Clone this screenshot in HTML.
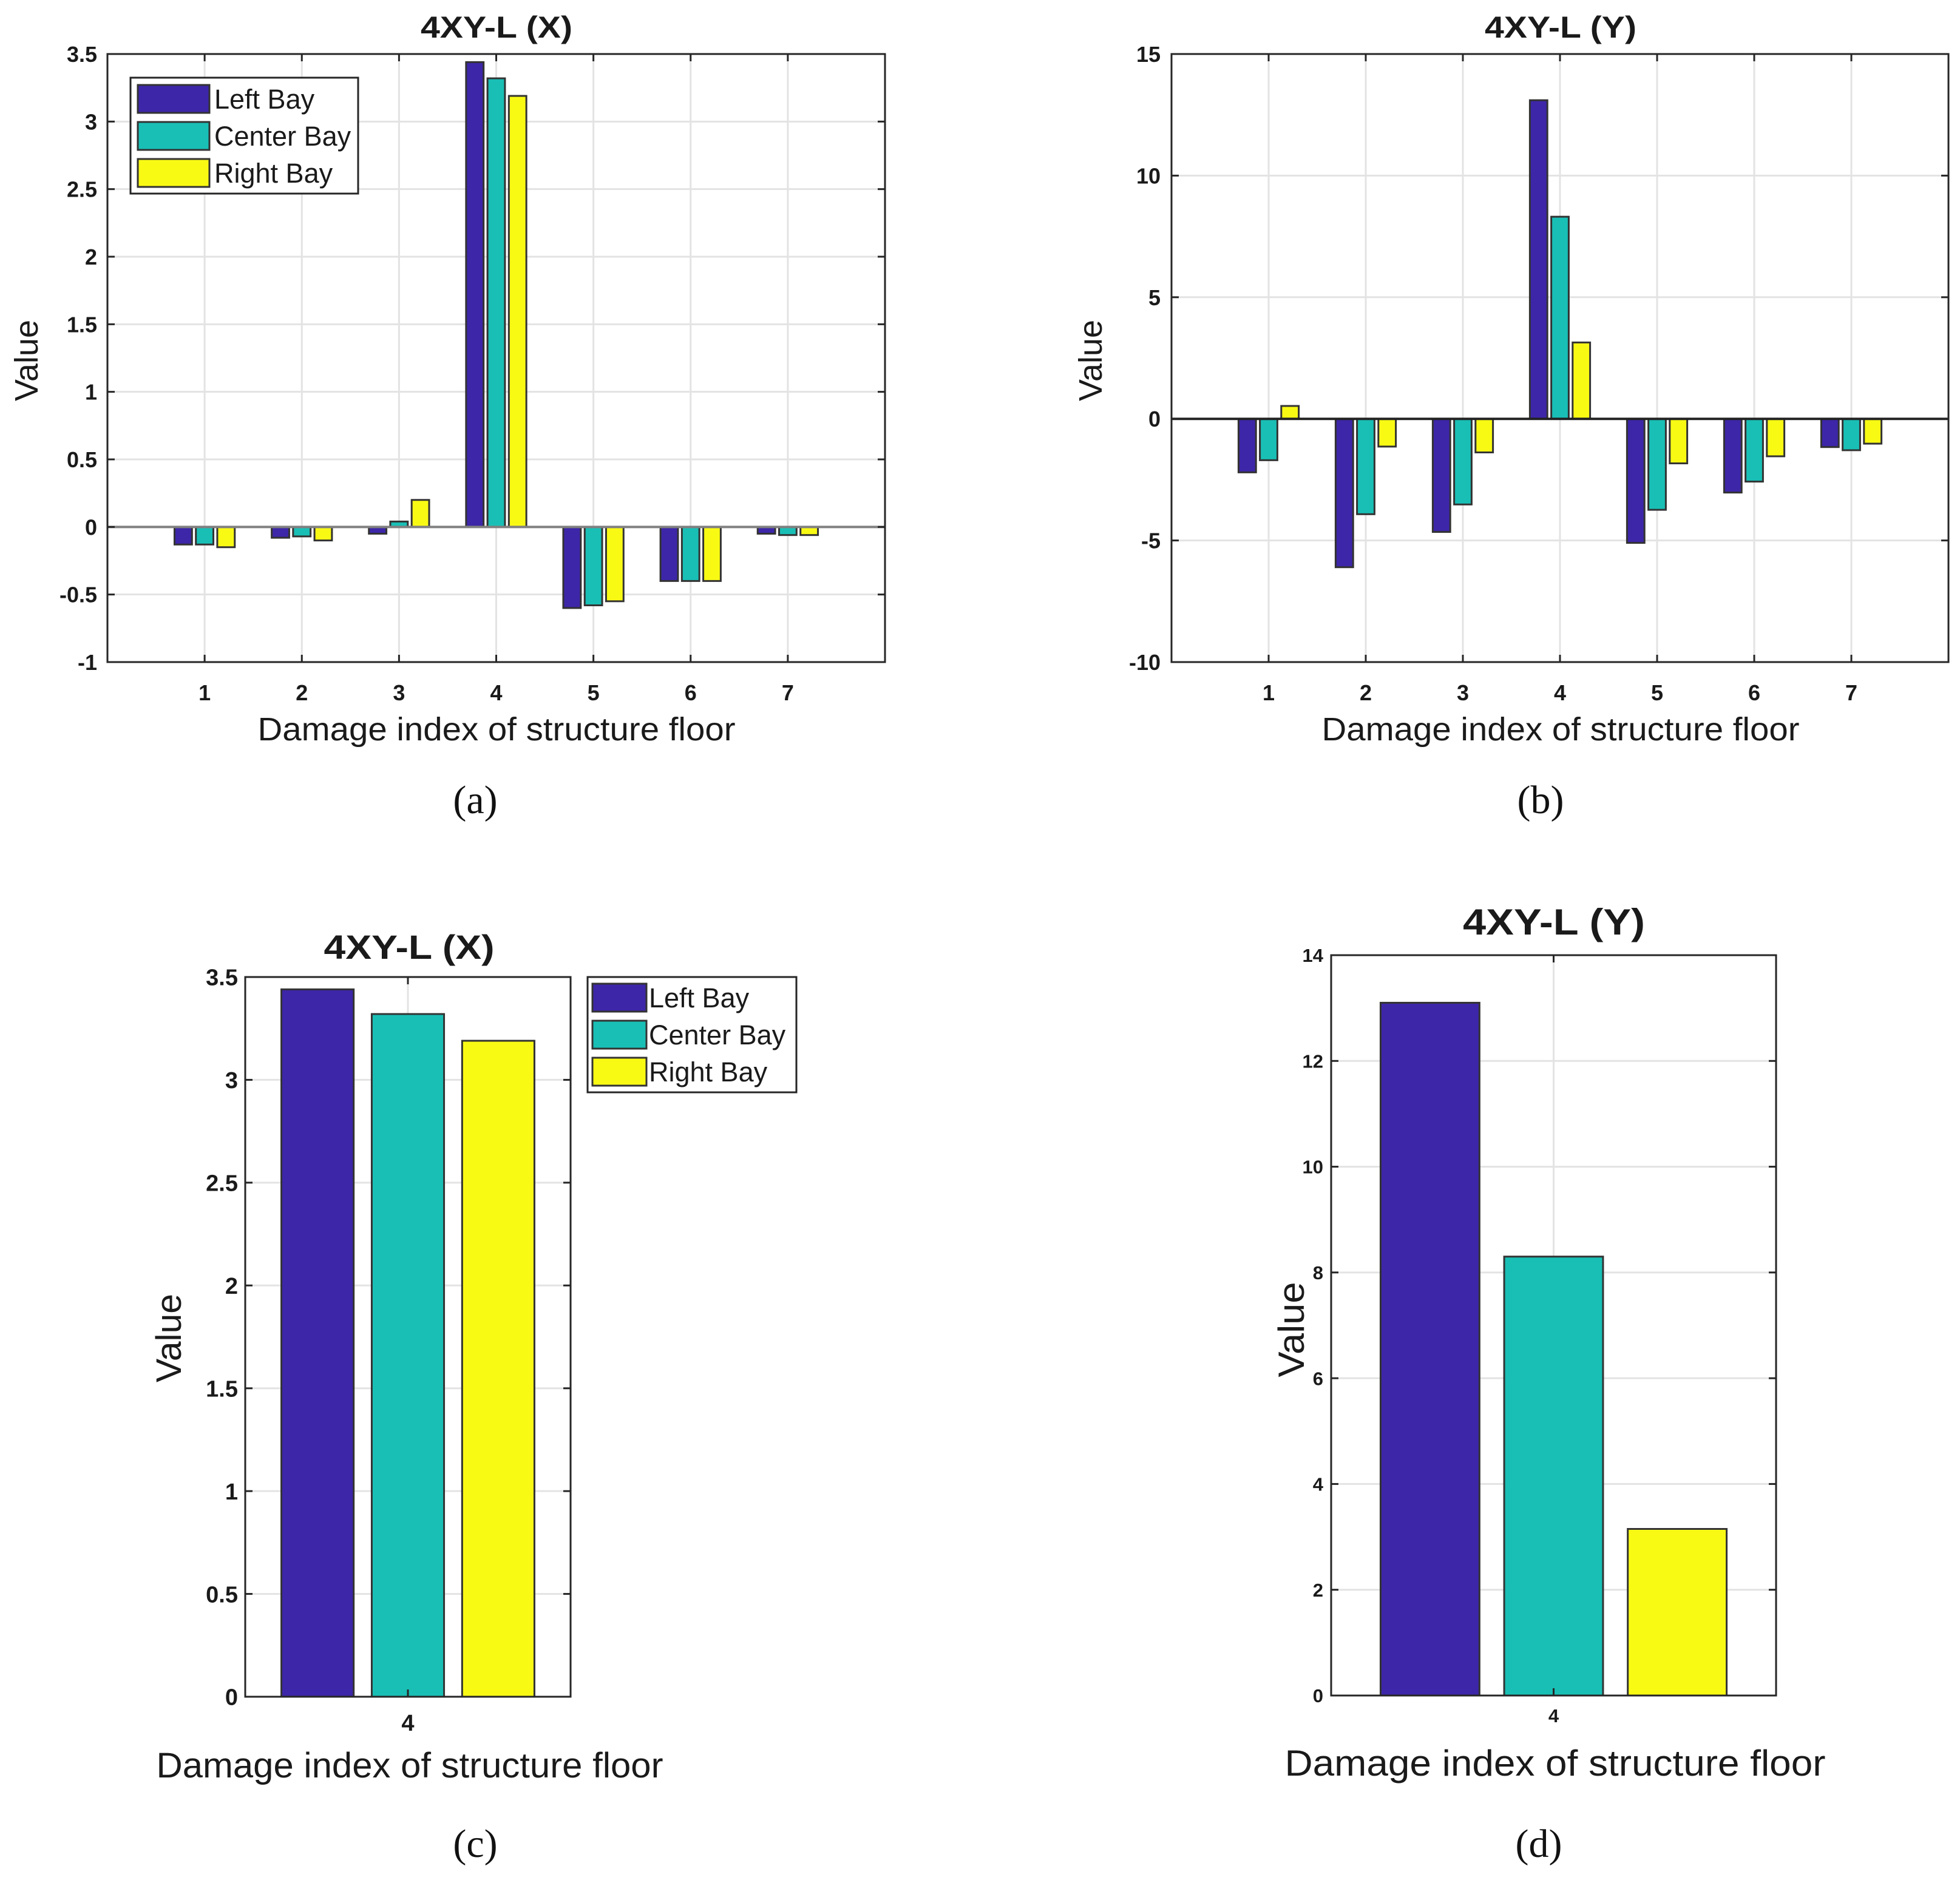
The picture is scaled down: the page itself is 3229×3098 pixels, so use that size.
<!DOCTYPE html>
<html><head><meta charset="utf-8"><style>
html,body{margin:0;padding:0;background:#fff}
svg{display:block}
text{font-family:"Liberation Sans",Arial,sans-serif;fill:#1a1a1a}
.tick{font-weight:bold}
.cap{font-family:"Liberation Serif",serif;fill:#111}
</style></head><body>
<svg id="fig" width="3229" height="3098" viewBox="0 0 3229 3098" xmlns="http://www.w3.org/2000/svg"></svg>
<script>
const floors = [1,2,3,4,5,6,7];
const seriesNames = ["Left Bay","Center Bay","Right Bay"];
const aLeft = [-0.13,-0.08,-0.05,3.44,-0.60,-0.40,-0.05];
const aCenter = [-0.13,-0.07,0.04,3.32,-0.58,-0.40,-0.06];
const aRight = [-0.15,-0.10,0.20,3.19,-0.55,-0.40,-0.06];
const aTicks = [-1,-0.5,0,0.5,1,1.5,2,2.5,3,3.5];
const bLeft = [-2.2,-6.1,-4.65,13.1,-5.1,-3.03,-1.16];
const bCenter = [-1.7,-3.92,-3.52,8.31,-3.74,-2.58,-1.29];
const bRight = [0.53,-1.14,-1.38,3.14,-1.83,-1.54,-1.02];
const bTicks = [-10,-5,0,5,10,15];
const cFloors = [4];
const cLeft = [3.44];
const cCenter = [3.32];
const cRight = [3.19];
const cTicks = [0,0.5,1,1.5,2,2.5,3,3.5];
const dLeft = [13.1];
const dCenter = [8.3];
const dRight = [3.15];
const dTicks = [0,2,4,6,8,10,12,14];
const colors = ["#3d26a8","#19bfb5","#f9fa14"];

const svg = document.getElementById('fig');
const NS = 'http://www.w3.org/2000/svg';
function el(tag, attrs, parent){
  const e = document.createElementNS(NS, tag);
  for (const k in attrs) e.setAttribute(k, attrs[k]);
  (parent||svg).appendChild(e);
  return e;
}
function txt(s, attrs, parent){ const t = el('text', attrs, parent); t.textContent = s; return t; }

function panel(p){
  const g = el('g', {});
  
  
  const L=p.L,R=p.R,T=p.T,B=p.B;
  const xs = v => L + (v - p.xmin)/(p.xmax - p.xmin)*(R-L);
  const ys = v => B - (v - p.ymin)/(p.ymax - p.ymin)*(B-T);
  p.yticks.forEach(v=>{
    const gl = el('line',{x1:L,x2:R,y1:ys(v),y2:ys(v),stroke:'#e3e3e3','stroke-width':3},g);
    
    
  });
  p.cats.forEach(c=>{
    const gl = el('line',{x1:xs(c),x2:xs(c),y1:T,y2:B,stroke:'#e3e3e3','stroke-width':3},g);
    
    
  });
  p.series.forEach((vals,si)=>{
    vals.forEach((v,i)=>{
      const cx = xs(p.cats[i] + (si-1)*p.off);
      const w = p.bw*(R-L)/(p.xmax-p.xmin);
      const y0 = ys(0), y1 = ys(v);
      const r = el('rect',{x:cx-w/2,y:Math.min(y0,y1),width:w,height:Math.abs(y1-y0),fill:colors[si],stroke:'#333','stroke-width':3},g);
      
      
    });
  });
  if (p.zeroLine){
    const z = el('line',{x1:L,x2:R,y1:ys(0),y2:ys(0),stroke:p.zeroLine,'stroke-width':4},g);
    
    
  }
  const box = el('rect',{x:L,y:T,width:R-L,height:B-T,fill:'none',stroke:'#262626','stroke-width':3},g);
  
  
  p.yticks.forEach(v=>{
    el('line',{x1:L,x2:L+12,y1:ys(v),y2:ys(v),stroke:'#262626','stroke-width':3},g);
    el('line',{x1:R-12,x2:R,y1:ys(v),y2:ys(v),stroke:'#262626','stroke-width':3},g);
    const t = txt(String(v),{x:p.ylx,y:ys(v)+p.tfs*0.36,'text-anchor':'end','font-size':p.tfs,class:'tick'},g);
    
    
  });
  p.cats.forEach(c=>{
    el('line',{x1:xs(c),x2:xs(c),y1:B-12,y2:B,stroke:'#262626','stroke-width':3},g);
    el('line',{x1:xs(c),x2:xs(c),y1:T,y2:T+12,stroke:'#262626','stroke-width':3},g);
    const t = txt(String(c),{x:xs(c),y:p.xly,'text-anchor':'middle','font-size':p.tfs,class:'tick'},g);
    
    
  });
  const ti = txt(p.title,{x:p.titleX,y:p.titleY,'text-anchor':'middle','font-size':p.titleFs,'font-weight':'bold',fill:'#000',textLength:p.titleW,lengthAdjust:'spacingAndGlyphs'},g);
  
  
  const xl = txt('Damage index of structure floor',{x:p.xlX,y:p.xlY,'text-anchor':'middle','font-size':p.lfs,textLength:p.xlW,lengthAdjust:'spacingAndGlyphs'},g);
  
  
  const yl = txt('Value',{x:0,y:0,'text-anchor':'middle','font-size':p.lfs,transform:'translate('+p.ylabX+','+p.ylabY+') rotate(-90)',textLength:p.ylabW,lengthAdjust:'spacingAndGlyphs'},g);
  
  
  const cp = txt(p.cap,{x:p.capX,y:p.capY,'text-anchor':'middle','font-size':66,class:'cap'},g);
  
  
  if (p.leg){
    const lg = el('g',{},g);
    
    
    const q=p.leg;
    el('rect',{x:q.x,y:q.y,width:q.w,height:q.h,fill:'#fff',stroke:'#262626','stroke-width':3},lg);
    seriesNames.forEach((n,i)=>{
      const cy = q.y + q.r0 + i*q.dy;
      const sw = el('rect',{x:q.sx,y:cy-q.sh/2,width:q.sw,height:q.sh,fill:colors[i],stroke:'#333','stroke-width':3},lg);
      
      
      const lt = txt(n,{x:q.tx,y:cy+q.fs*0.36,'font-size':q.fs},lg);
      
      
    });
  }
}

panel({name:'chart-a',L:177,R:1458,T:89,B:1091,xmin:0,xmax:8,ymin:-1,ymax:3.5,cats:floors,series:[aLeft,aCenter,aRight],
  yticks:aTicks,off:0.22,bw:0.18,zeroLine:'#808080',tfs:36,ylx:160,xly:1154,
  title:'4XY-L (X)',titleX:818,titleY:62,titleFs:50,titleW:250,
  xlX:818,xlY:1220,lfs:54,xlW:787,ylabX:62,ylabY:594,ylabW:134,cap:'(a)',capX:783,capY:1340,
  leg:{x:215,y:128,w:375,h:191,sx:227,sw:118,sh:46,tx:353,r0:35,dy:61,fs:45}});
panel({name:'chart-b',L:1930,R:3210,T:89,B:1091,xmin:0,xmax:8,ymin:-10,ymax:15,cats:floors,series:[bLeft,bCenter,bRight],
  yticks:bTicks,off:0.22,bw:0.18,zeroLine:'#222',tfs:36,ylx:1912,xly:1154,
  title:'4XY-L (Y)',titleX:2571,titleY:62,titleFs:50,titleW:250,
  xlX:2571,xlY:1220,lfs:54,xlW:787,ylabX:1815,ylabY:594,ylabW:134,cap:'(b)',capX:2538,capY:1340});
panel({name:'chart-c',L:404,R:940,T:1610,B:2796,xmin:3.1,xmax:4.9,ymin:0,ymax:3.5,cats:cFloors,series:[cLeft,cCenter,cRight],
  yticks:cTicks,off:0.5,bw:0.4,zeroLine:null,tfs:38,ylx:392,xly:2852,
  title:'4XY-L (X)',titleX:674,titleY:1580,titleFs:56,titleW:281,
  xlX:675,xlY:2929,lfs:58,xlW:835,ylabX:298,ylabY:2205,ylabW:146,cap:'(c)',capX:783,capY:3060,
  leg:{x:968,y:1610,w:344,h:190,sx:976,sw:89,sh:46,tx:1069,r0:34,dy:61,fs:45}});
panel({name:'chart-d',L:2193,R:2926,T:1574,B:2794,xmin:3.1,xmax:4.9,ymin:0,ymax:14,cats:cFloors,series:[dLeft,dCenter,dRight],
  yticks:dTicks,off:0.5,bw:0.4,zeroLine:null,tfs:31,ylx:2180,xly:2838,
  title:'4XY-L (Y)',titleX:2560,titleY:1540,titleFs:60,titleW:300,
  xlX:2562,xlY:2926,lfs:60,xlW:891,ylabX:2148,ylabY:2191,ylabW:157,cap:'(d)',capX:2535,capY:3060});
</script>
</body></html>
